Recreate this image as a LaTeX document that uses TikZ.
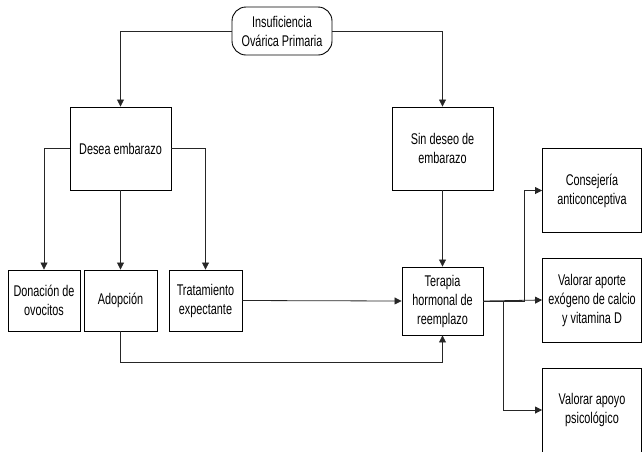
\documentclass[tikz,border=0pt]{standalone}
\usepackage{fontspec}
\setmainfont{Liberation Sans}[FakeStretch=0.7]
\usepackage{tikz}
\usetikzlibrary{positioning, arrows.meta}

\begin{document}
\begin{tikzpicture}[x=1pt, y=-1pt,
    >={Triangle[length=7pt, width=7pt]},
    font=\fontsize{15.5}{19}\selectfont,
    kasten/.style={draw, line width=0.9pt, align=center, inner sep=1pt},
    start/.style={kasten, rounded corners=14pt, minimum width=100pt, minimum height=48pt},
    gross/.style={kasten, minimum width=101pt, minimum height=83pt},
    klein/.style={kasten, minimum width=73pt, minimum height=61pt},
    linie/.style={->, line width=0.8pt, black!85}]

    % Bildrahmen (642 x 451)
    \useasboundingbox (0,0) rectangle (642,451);
    \clip (0,0) rectangle (642,451);

    % Ausgangsdiagnose
    \node[start] (ipo) at (282,31) {Insuficiencia\\Ovárica Primaria};

    % Kinderwunsch ja / nein
    \node[gross] (desea) at (120.5,148.5) {Desea embarazo};
    \node[gross] (sindeseo) at (442.5,148.5) {Sin deseo de\\embarazo};

    % Optionen bei Kinderwunsch
    \node[klein, minimum width=72pt] (donacion) at (44,300.5) {Donación de\\ovocitos};
    \node[klein] (adopcion) at (120.5,300.5) {Adopción};
    \node[klein] (tratamiento) at (205.5,300.5) {Tratamiento\\expectante};

    % Hormontherapie
    \node[kasten, minimum width=81pt, minimum height=68pt] (terapia) at (442.5,301)
        {Terapia\\hormonal de\\reemplazo};

    % Begleitmaßnahmen rechts (am Rand abgeschnitten)
    \node[gross, minimum width=99pt, minimum height=84pt] (consejeria) at (592,190.5)
        {Consejería\\anticonceptiva};
    \node[gross, minimum width=99pt, minimum height=84pt] (aporte) at (592,300)
        {Valorar aporte\\exógeno de calcio\\y vitamina D};
    \node[gross, minimum width=99pt, minimum height=84pt] (apoyo) at (592,410)
        {Valorar apoyo\\psicológico};

    % Verbindungen oben
    \draw[linie] (ipo.west) -| (desea.north);
    \draw[linie] (ipo.east) -| (sindeseo.north);

    % Verzweigung Kinderwunsch
    \draw[linie] (desea.west) -| (donacion.north);
    \draw[linie] (desea.south) -- (adopcion.north);
    \draw[linie] (desea.east) -| (tratamiento.north);

    % Zur Hormontherapie
    \draw[linie] (sindeseo.south) -- (terapia.north);
    \draw[linie] (tratamiento.east) -- (terapia.west);
    \draw[linie] (adopcion.south) -- ++(0,31) -| (terapia.south);

    % Verzweigung nach rechts
    \draw[linie] (terapia.east) -- (aporte.west);
    \draw[linie] (terapia.east) -- ++(41,0) |- (consejeria.west);
    \draw[linie] (terapia.east) -- ++(20,0) |- (apoyo.west);

\end{tikzpicture}
\end{document}
